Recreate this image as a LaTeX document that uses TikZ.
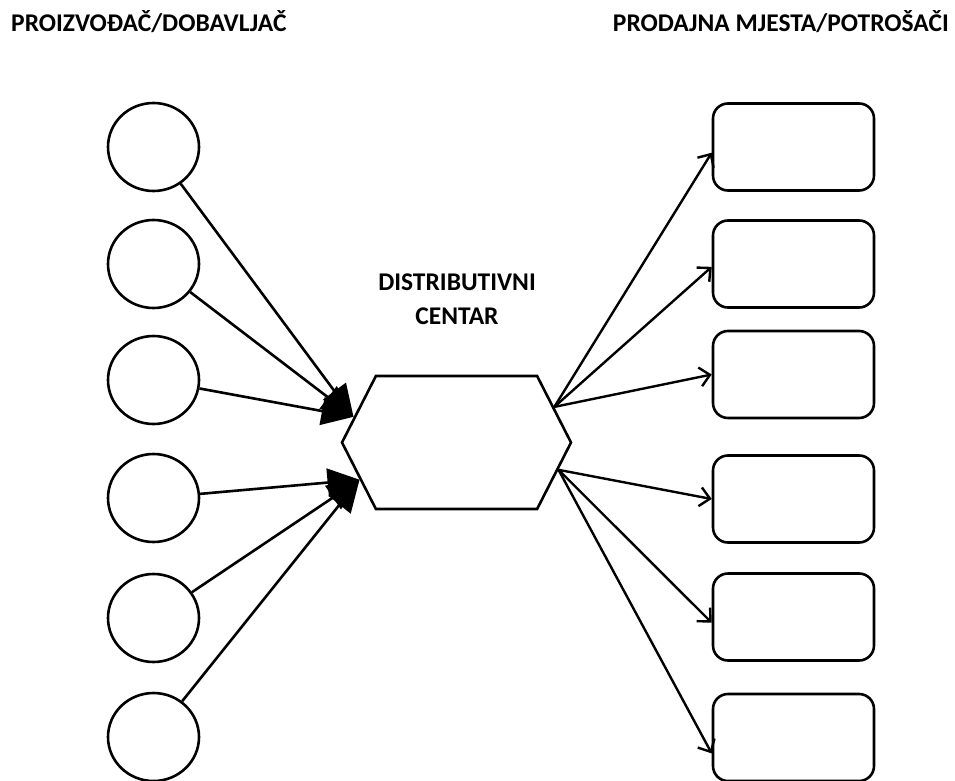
\documentclass[tikz,border=0pt]{standalone}
\usepackage{fontspec}
\setmainfont{Carlito}
\usepackage{tikz}
\usetikzlibrary{arrows.meta,shapes.geometric,shapes.symbols}

\tikzset{
  naslov/.style={font=\fontsize{25.5}{34}\selectfont\bfseries, inner sep=0pt},
  dobavljac/.style={draw, ellipse, line width=2.6pt, minimum width=91pt, minimum height=88pt, inner sep=0pt},
  potrosac/.style={draw, rectangle, rounded corners=15pt, line width=2.6pt, minimum width=161pt, minimum height=87pt, inner sep=0pt},
  centar/.style={draw, signal, signal to=east and west, signal pointer angle=126, line width=2.6pt, minimum width=229pt, minimum height=133pt, inner sep=0pt},
  ulaz/.style={line width=2.6pt, -{Triangle[length=32pt,width=28pt]}},
  izlaz/.style={line width=2.4pt, -{Straight Barb[length=10pt,width=19pt]}}
}

\begin{document}
\begin{tikzpicture}[x=1pt,y=-1pt]
\useasboundingbox (0,0) rectangle (955,781);

\node[naslov, anchor=base west] (tlijevo) at (11,32) {PROIZVOĐAČ/DOBAVLJAČ};
\node[naslov, anchor=base east] (tdesno) at (949,32) {PRODAJNA MJESTA/POTROŠAČI};
\node[naslov, align=center] (tcentar) at (457,299) {DISTRIBUTIVNI\\CENTAR};

\node[centar] (dc) at (456.5,442.5) {};

\node[dobavljac] (d1) at (153.5,147) {};
\node[dobavljac] (d2) at (153.5,264) {};
\node[dobavljac] (d3) at (153.5,380) {};
\node[dobavljac] (d4) at (153.5,498) {};
\node[dobavljac] (d5) at (153.5,618) {};
\node[dobavljac] (d6) at (153.5,737) {};

\node[potrosac] (p1) at (793.5,147) {};
\node[potrosac] (p2) at (793.5,264) {};
\node[potrosac] (p3) at (793.5,374.5) {};
\node[potrosac] (p4) at (793.5,499) {};
\node[potrosac] (p5) at (793.5,617) {};
\node[potrosac] (p6) at (793.5,737.5) {};

\draw[ulaz] (d1) -- (dc.166);
\draw[ulaz] (d2) -- (dc.166);
\draw[ulaz] (d3) -- (dc.166);
\draw[ulaz] (d4) -- (dc.201);
\draw[ulaz] (d5) -- (dc.201);
\draw[ulaz] (d6) -- (dc.201);

\draw[izlaz] (dc.20) -- (p1.184);
\draw[izlaz] (dc.20) -- (p2.182);
\draw[izlaz] (dc.20) -- (p3.west);
\draw[izlaz] (dc.345) -- (p4.west);
\draw[izlaz] (dc.345) -- (p5.184);
\draw[izlaz] (dc.345) -- (p6.191);
\end{tikzpicture}
\end{document}
